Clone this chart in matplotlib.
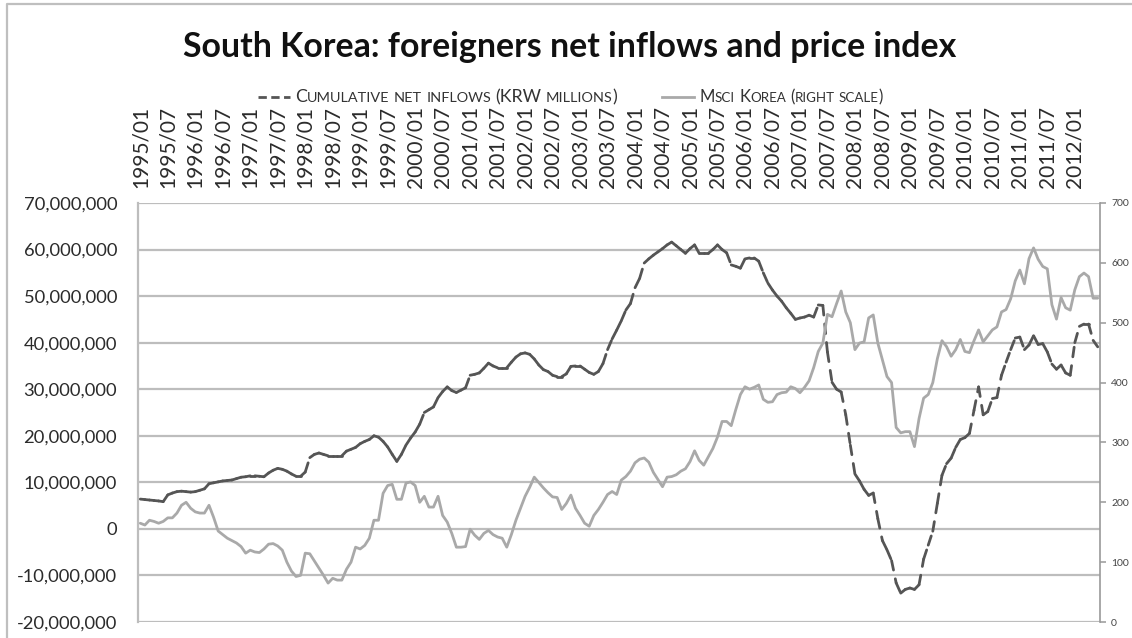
import numpy as np
import matplotlib
matplotlib.use("Agg")
import matplotlib.pyplot as plt
from matplotlib.collections import LineCollection
from matplotlib.ticker import FuncFormatter
from matplotlib.lines import Line2D
from matplotlib.offsetbox import TextArea, HPacker, DrawingArea, AnchoredOffsetbox

FONT = "Lato"
plt.rcParams["font.family"] = [FONT, "DejaVu Sans"]

title = "South Korea: foreigners net inflows and price index"
legend_inflows = "Cumulative net inflows (KRW millions)"
legend_msci = "Msci Korea (right scale)"

months = [f"{y}/{m:02d}" for y in range(1995, 2013) for m in range(1, 13)][:210]

# cumulative net inflows, in millions of KRW millions (left scale)
inflows_mn = [
    6.4, 6.3, 6.2, 6.1, 6.0, 5.85, 7.3, 7.7, 8.0, 8.1, 8.0, 7.9,
    8.0, 8.3, 8.6, 9.7, 9.9, 10.1, 10.3, 10.4, 10.5, 10.8, 11.1, 11.2,
    11.4, 11.4, 11.3, 11.2, 12.0, 12.6, 13.0, 12.8, 12.4, 11.8, 11.3, 11.3,
    12.2, 15.3, 16.0, 16.3, 16.0, 15.7, 15.7, 15.7, 15.7, 16.7, 17.1, 17.5,
    18.3, 18.8, 19.2, 20.0, 19.7, 18.8, 17.6, 16.0, 14.5, 16.0, 18.0, 19.5,
    20.8, 22.5, 25.0, 25.6, 26.2, 28.2, 29.5, 30.5, 29.7, 29.3, 29.8, 30.3,
    33.0, 33.2, 33.5, 34.5, 35.6, 35.0, 34.6, 34.6, 34.6, 35.8, 36.9, 37.6,
    37.8, 37.5, 36.5, 35.2, 34.2, 33.8, 33.0, 32.7, 32.7, 33.3, 34.9, 35.0,
    35.0, 34.3, 33.6, 33.2, 33.8, 35.5, 38.5, 40.8, 42.7, 44.7, 47.0, 48.4,
    51.8, 53.8, 57.1, 58.0, 58.8, 59.5, 60.2, 61.0, 61.6, 60.8, 60.0, 59.2,
    60.2, 61.0, 59.2, 59.2, 59.2, 60.0, 61.0, 60.0, 59.3, 56.7, 56.4, 56.0,
    58.0, 58.2, 58.2, 57.5, 55.0, 52.8, 51.3, 50.0, 48.9, 47.5, 46.3, 45.0,
    45.3, 45.5, 45.9, 45.5, 48.1, 48.0, 38.0, 31.5, 30.0, 29.4, 24.5, 18.0,
    11.8, 10.3, 8.5, 7.2, 7.7, 2.2, -2.5, -4.5, -6.8, -11.6, -13.8, -13.0,
    -12.7, -13.0, -12.0, -6.5, -3.5, -0.5, 5.5, 11.5, 14.0, 15.2, 17.5, 19.2,
    19.6, 20.5, 25.5, 30.5, 24.5, 25.2, 28.0, 28.2, 33.0, 35.8, 38.5, 41.0,
    41.2, 38.5, 39.5, 41.5, 39.6, 39.8, 38.0, 35.4, 34.3, 35.2, 33.5, 33.0,
    40.0, 43.5, 44.0, 44.0, 40.5, 39.1,
]

# MSCI Korea price index (right scale)
msci = [
    165, 162, 170, 168, 165, 168, 174, 174, 182, 195, 200, 190,
    184, 182, 182, 195, 175, 152, 146, 140, 136, 132, 126, 115,
    120, 117, 116, 122, 130, 131, 127, 120, 100, 85, 76, 78,
    115, 114, 102, 90, 78, 65, 73, 70, 70, 88, 100, 125,
    122, 128, 140, 170, 170, 215, 228, 230, 205, 205, 232, 234,
    228, 200, 210, 192, 192, 210, 178, 167, 148, 125, 125, 126,
    155, 145, 138, 148, 153, 146, 142, 140, 125, 146, 170, 190,
    210, 225, 242, 233, 224, 216, 209, 208, 188, 198, 212, 190,
    178, 165, 160, 178, 188, 200, 213, 218, 213, 237, 243, 252,
    266, 272, 274, 267, 250, 238, 226, 242, 243, 246, 252, 256,
    268, 286, 270, 262, 276, 290, 309, 335, 335, 328, 355, 380,
    393, 389, 392, 396, 372, 367, 368, 380, 383, 384, 393, 390,
    383, 392, 403, 425, 452, 466, 514, 510, 532, 553, 518, 500,
    455, 466, 468, 508, 513, 466, 438, 410, 400, 325, 316, 318,
    318, 293, 340, 374, 380, 400, 440, 470, 460, 444, 455, 472,
    452, 450, 470, 488, 468, 478, 488, 493, 518, 522, 540, 570,
    588, 565, 607, 625, 606, 594, 590, 530, 506, 542, 525, 521,
    555, 577, 583, 577, 541, 541,
]

left_ticks = list(range(-20_000_000, 70_000_001, 10_000_000))
right_ticks = list(range(0, 701, 100))

W, H = 1132, 638
fig = plt.figure(figsize=(W / 100, H / 100), dpi=100)
fig.patch.set_facecolor("white")

# outer chart border (left and top visible)
fig.add_artist(Line2D([7 / W, 7 / W, 1.0], [0.0, 1 - 4 / H, 1 - 4 / H],
                      transform=fig.transFigure, color="#bfbfbf", lw=1.6))

L, R, T, B = 138, 1100, 203, 622
ax = fig.add_axes([L / W, 1 - B / H, (R - L) / W, (B - T) / H])
ax2 = ax.twinx()

x = np.arange(len(months))
GRID = "#bdbdbd"

ax.set_xlim(-0.5, len(months) - 0.5)
ax.set_ylim(left_ticks[0], left_ticks[-1])
ax.set_yticks(left_ticks)
ax.yaxis.set_major_formatter(FuncFormatter(lambda v, p: f"{v:,.0f}"))
ax.grid(axis="y", color=GRID, lw=1.6)
ax.set_axisbelow(True)
ax.tick_params(axis="y", length=0, pad=15, labelsize=13.2, labelcolor="#2b2b2b")

ax.xaxis.tick_top()
ax.set_xticks(x[::6])
ax.set_xticklabels(months[::6], rotation=90)
ax.tick_params(axis="x", length=0, pad=11, labelsize=15, labelcolor="#2b2b2b")

for s in ["top", "bottom", "right"]:
    ax.spines[s].set_visible(False)
ax.spines["left"].set_color(GRID)
ax.spines["left"].set_linewidth(1.6)
for s in ["top", "bottom", "left"]:
    ax2.spines[s].set_visible(False)
ax2.spines["right"].set_color("#999999")
ax2.spines["right"].set_linewidth(1.2)

# cumulative inflows: dashed, dash pattern restarting on each monthly segment
y_in = np.array(inflows_mn) * 1e6
pts = np.column_stack([x, y_in])
segs = np.stack([pts[:-1], pts[1:]], axis=1)
lc = LineCollection(segs, colors="#555555", linewidths=2.0,
                    linestyles=[(0, (3.5, 3.2))], capstyle="round", zorder=3)
ax.add_collection(lc)

ax2.set_ylim(right_ticks[0], right_ticks[-1])
ax2.set_yticks(right_ticks)
ax2.plot(x, msci, color="#a9a9a9", lw=2.0, solid_joinstyle="round",
         solid_capstyle="round", zorder=4)
ax2.tick_params(axis="y", direction="out", length=4, width=1.1, color="#999999",
                pad=4, labelsize=7.5, labelcolor="#444444")

fig.text(0.503, 1 - 47 / H, title, ha="center", va="center",
         fontsize=24.4, fontweight="bold", color="#111111")


def small_caps(s, big, small, color="#333333"):
    words = []
    for w in s.split(" "):
        runs = []
        for ch in w:
            sm = ch.islower()
            if runs and runs[-1][1] == sm:
                runs[-1][0] += ch.upper()
            else:
                runs.append([ch.upper(), sm])
        kids = [TextArea(t, textprops=dict(fontsize=small if sm else big,
                                           color=color))
                for t, sm in runs]
        words.append(HPacker(children=kids, align="baseline", pad=0, sep=0))
    return HPacker(children=words, align="baseline", pad=0, sep=3.0)


def legend_entry(sample_kw, text, x0, big, small):
    da = DrawingArea(23, 8, 0, 0)
    da.add_artist(Line2D([0, 23], [4, 4], **sample_kw))
    box = HPacker(children=[da, small_caps(text, big, small)], align="center",
                  pad=0, sep=4)
    ab = AnchoredOffsetbox(loc="center left", child=box, pad=0, borderpad=0,
                           frameon=False, bbox_to_anchor=(x0 / W, 1 - 97 / H),
                           bbox_transform=fig.transFigure)
    fig.add_artist(ab)


legend_entry(dict(color="#555555", lw=2.0, linestyle=(0, (3.0, 1.6))),
             legend_inflows, 258, 12.8, 10.4)
legend_entry(dict(color="#a9a9a9", lw=2.0), legend_msci, 662, 12.0, 9.6)

fig.savefig("out.png", dpi=100, facecolor="white")
